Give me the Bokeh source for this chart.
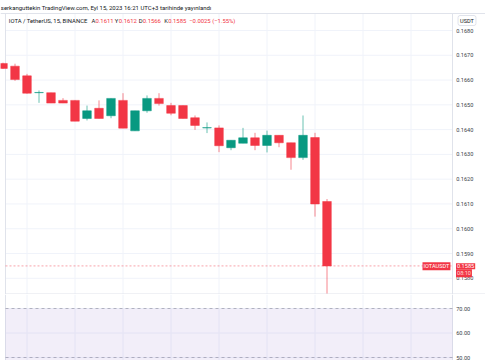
from bokeh.plotting import figure
from bokeh.layouts import column
from bokeh.models import ColumnDataSource, Range1d, BoxAnnotation, Label
from bokeh.core.properties import value
from bokeh.embed import file_html
from bokeh.resources import INLINE

# ---------------- data (15-minute candles, IOTA/USDT) ----------------
candle_idx = list(range(28))
opens = [0.16667, 0.16656, 0.16617, 0.16549, 0.16549, 0.16518, 0.16518, 0.16445,
         0.16486, 0.16456, 0.16518, 0.16395, 0.16476, 0.16526, 0.16497, 0.16497,
         0.16448, 0.16407, 0.16407, 0.16327, 0.16345, 0.16367, 0.16336, 0.16377,
         0.16347, 0.16287, 0.16368, 0.1611]
highs = [0.16670, 0.16666, 0.16625, 0.16558, 0.16549, 0.16527, 0.16518, 0.16497,
         0.16518, 0.16526, 0.16547, 0.16476, 0.16538, 0.16547, 0.16508, 0.16497,
         0.16457, 0.16429, 0.16417, 0.16357, 0.16407, 0.16387, 0.16396, 0.16377,
         0.16347, 0.16457, 0.16387, 0.1612]
lows = [0.16645, 0.16597, 0.16545, 0.16508, 0.16507, 0.16507, 0.16434, 0.16437,
        0.16445, 0.16446, 0.16406, 0.16395, 0.16468, 0.16497, 0.16458, 0.16445,
        0.16399, 0.16386, 0.16309, 0.16317, 0.16345, 0.16317, 0.16308, 0.16329,
        0.16238, 0.16278, 0.16049, 0.1566]
closes = [0.16647, 0.16602, 0.16547, 0.16550, 0.16507, 0.16507, 0.16434, 0.16476,
          0.16445, 0.16526, 0.16406, 0.16476, 0.16526, 0.16505, 0.16466, 0.16445,
          0.16417, 0.16408, 0.16335, 0.16357, 0.16367, 0.16336, 0.16377, 0.16347,
          0.16287, 0.16377, 0.1610, 0.1585]

price_ticks = [0.1580, 0.1590, 0.1600, 0.1610, 0.1620, 0.1630, 0.1640,
               0.1650, 0.1660, 0.1670, 0.1680]
price_tick_labels = ["0.1580", "0.1590", "0.1600", "0.1610", "0.1620", "0.1630",
                     "0.1640", "0.1650", "0.1660", "0.1670", "0.1680"]
hour_ticks = [2, 6, 10, 14, 18, 22, 26, 30, 34]
rsi_ticks = [50, 60, 70]
rsi_tick_labels = ["50.00", "60.00", "70.00"]
rsi_upper, rsi_middle, rsi_lower = 70, 50, 30

symbol_text = "IOTA / TetherUS, 15, BINANCE"
publish_text = "serkanguttekin TradingView.com, Eyl 15, 2023 16:21 UTC+3 tarihinde yayınlandı"
quote_ccy = "USDT"
ticker_name = "IOTAUSDT"
countdown = "08:10"

# ---------------- layout helpers ----------------
W, H = 485, 360
MAIN_H = 294
RED, GREEN = "#F23645", "#089981"
TXT = "#131722"
AXT = "#3b3f4a"
GRID = "#f0f3fa"
BORDER = "#e0e3eb"
FONT = value("Roboto")
FS = "5.6px"
HFS = "5.9px"


def xi(px):      # reference pixel x -> candle index
    return (px - 2.5) / 12.0


def yp(py):      # reference pixel y -> price
    return 0.1680 - (py - 30) / 24780.0


RSI_TOP = 70 + 14 / 2.45
RSI_BOT = 50 - 3 / 2.45


def make_fig(height, y_range, x_range):
    fig = figure(width=W, height=height, output_backend="svg", toolbar_location=None,
                 title=None, x_range=x_range, y_range=y_range,
                 x_axis_location=None, y_axis_location=None,
                 min_border=0, min_border_top=0, min_border_bottom=0,
                 min_border_left=0, min_border_right=0)
    fig.background_fill_color = "white"
    fig.border_fill_color = "white"
    fig.outline_line_color = None
    for g in fig.grid:
        g.visible = False
    return fig


# ---------------- main price pane ----------------
p = make_fig(MAIN_H, Range1d(yp(MAIN_H), yp(0)), Range1d(xi(0), xi(W)))

n_pt = len(price_ticks)
# grid
p.segment(x0=[xi(5)] * n_pt, x1=[xi(452)] * n_pt, y0=price_ticks, y1=price_ticks,
          line_color=GRID, line_width=1)
p.segment(x0=hour_ticks, x1=hour_ticks, y0=[yp(13)] * len(hour_ticks),
          y1=[yp(MAIN_H)] * len(hour_ticks), line_color=GRID, line_width=1)
# pane borders
p.segment(x0=[xi(0), xi(5), xi(452)], x1=[xi(W), xi(5), xi(452)],
          y0=[yp(13), yp(13), yp(13)], y1=[yp(13), yp(MAIN_H), yp(MAIN_H)],
          line_color=BORDER, line_width=1)

# last price dashed line
p.segment(x0=[xi(5)], x1=[xi(452)], y0=[closes[-1]], y1=[closes[-1]],
          line_color=RED, line_alpha=0.45, line_width=1, line_dash="2 2")

# candles
tops = [max(o, c) for o, c in zip(opens, closes)]
bots = [min(o, c) for o, c in zip(opens, closes)]
cols = [GREEN if c >= o else RED for o, c in zip(opens, closes)]
src = ColumnDataSource(dict(x=candle_idx, high=highs, low=lows, top=tops, bottom=bots, color=cols))
p.segment(x0="x", y0="low", x1="x", y1="high", line_color="color", line_alpha=0.6,
          line_width=1, source=src)
p.vbar(x="x", width=0.72, top="top", bottom="bottom", fill_color="color",
       line_color="color", line_width=0.5, source=src)

# pane separator
p.segment(x0=[xi(5)], x1=[xi(W)], y0=[yp(293.5)], y1=[yp(293.5)],
          line_color=BORDER, line_width=1)

# price scale labels
p.text(x=[xi(455.7)] * n_pt, y=price_ticks, text=price_tick_labels, text_color=AXT,
       text_font=FONT, text_font_size=FS, text_baseline="middle", text_align="left")

# header legend inside pane
chg = closes[-1] - closes[-2]
pct = chg / closes[-2] * 100
sgn = lambda v: "\u2212" if v < 0 else "+"
hdr_x = [xi(8.3), xi(91), xi(95), xi(114.3), xi(118.3), xi(138.3), xi(142.3),
         xi(163.7), xi(167.7), xi(188.7)]
hdr_t = [symbol_text, "A", f"{opens[-1]:.4f}", "Y", f"{highs[-1]:.4f}", "D",
         f"{lows[-1]:.4f}", "K", f"{closes[-1]:.4f}",
         f"{sgn(chg)}{abs(chg):.4f} ({sgn(pct)}{abs(pct):.2f}%)"]
hdr_c = [TXT, TXT, RED, TXT, RED, TXT, RED, TXT, RED, RED]
p.text(x=hdr_x, y=[yp(20.3)] * len(hdr_x), text=hdr_t, text_color=hdr_c,
       text_font=FONT, text_font_size=HFS, text_baseline="middle", text_align="left")

# publishing line
p.text(x=[xi(0.3)], y=[yp(6.5)], text=[publish_text], text_color=TXT,
       text_font=FONT, text_font_size="6px", text_baseline="middle", text_align="left")

# USDT button
p.add_layout(Label(x=xi(466.5), y=yp(20), text=quote_ccy, text_font="Roboto",
                   text_font_size="5.6px", text_color=TXT, text_baseline="middle",
                   text_align="center", background_fill_color="white",
                   border_line_color=BORDER, padding=2, border_radius=2))

# last price labels
p.add_layout(Label(x=xi(422), y=yp(265.7), text=ticker_name, text_font="Roboto",
                   text_font_size="5.6px", text_color="white", text_baseline="middle",
                   background_fill_color=RED, padding=1))
p.add_layout(Label(x=xi(455.5), y=yp(265.7), text=f"{closes[-1]:.4f}", text_font="Roboto",
                   text_font_size=FS, text_color="white", text_baseline="middle",
                   background_fill_color=RED, padding=1))
p.add_layout(Label(x=xi(455.5), y=yp(272.7), text=countdown, text_font="Roboto",
                   text_font_size=FS, text_color="#ffd6da", text_baseline="middle",
                   background_fill_color=RED, padding=1))

# ---------------- RSI pane ----------------
r = make_fig(H - MAIN_H, Range1d(RSI_BOT, RSI_TOP), p.x_range)
n_rt = len(rsi_ticks)
r.segment(x0=[xi(5)] * n_rt, x1=[xi(452)] * n_rt, y0=rsi_ticks, y1=rsi_ticks,
          line_color=GRID, line_width=1)
r.segment(x0=hour_ticks, x1=hour_ticks, y0=[RSI_BOT] * len(hour_ticks),
          y1=[RSI_TOP] * len(hour_ticks), line_color=GRID, line_width=1)
r.segment(x0=[xi(5), xi(452)], x1=[xi(5), xi(452)], y0=[RSI_BOT, RSI_BOT],
          y1=[RSI_TOP, RSI_TOP], line_color=BORDER, line_width=1)
r.add_layout(BoxAnnotation(bottom=rsi_lower, top=rsi_upper, left=xi(5), right=xi(452),
                           fill_color="#7E57C2", fill_alpha=0.1, line_color=None))
bands = [rsi_upper, rsi_middle, rsi_lower]
r.segment(x0=[xi(5)] * 3, x1=[xi(452)] * 3, y0=bands, y1=bands, line_color="#787B86",
          line_alpha=0.5, line_width=1, line_dash="3 3")
r.text(x=[xi(455.7)] * n_rt, y=rsi_ticks, text=rsi_tick_labels, text_color=AXT,
       text_font=FONT, text_font_size=FS, text_baseline="middle", text_align="left")

layout = column(p, r, spacing=0)
open("out.html", "w").write(file_html(layout, INLINE))
